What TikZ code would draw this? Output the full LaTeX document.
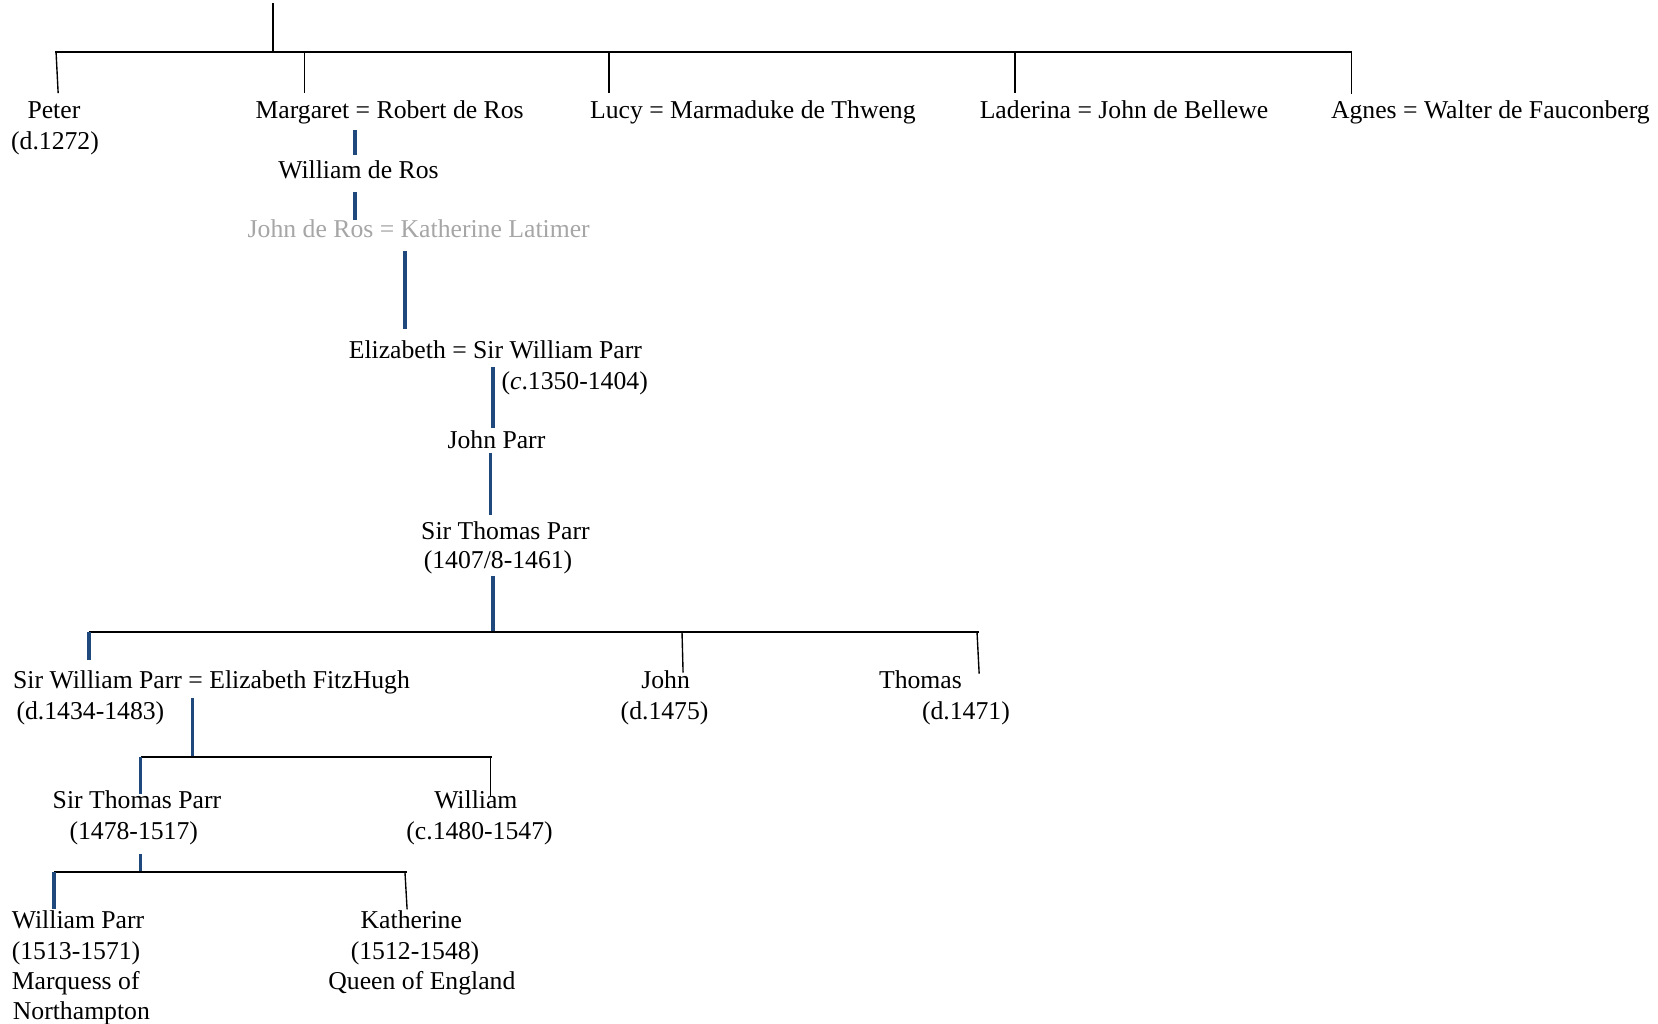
\documentclass[tikz,border=0pt]{standalone}
\usepackage{fontspec}
\setmainfont{Liberation Serif}
\definecolor{lineblue}{RGB}{31,73,125}
\definecolor{greytext}{RGB}{166,166,166}
\begin{document}
\begin{tikzpicture}[x=1pt,y=-1pt,
  lbl/.style={inner sep=0pt, anchor=base, yshift=-2pt, font=\fontsize{24.3}{29}\selectfont},
  lblw/.style={lbl, anchor=base west},
  bar/.style={line width=1.8pt, black},
  drop/.style={line width=1.3pt, black},
  blu/.style={line width=3.4pt, lineblue}]
\path[use as bounding box, fill=white] (0,0) rectangle (1568,968);

% ---------- generation 1 ----------
\coordinate (top) at (258,3);
\coordinate (b1) at (258,49);
\coordinate (b1L) at (52,49);
\coordinate (b1R) at (1279,49);
\draw[bar] (top) -- (b1);
\draw[bar] (b1L) -- (b1R);
\coordinate (dPa) at (53,49);   \coordinate (dPb) at (55,88);
\coordinate (dMa) at (288,49);  \coordinate (dMb) at (288,88);
\coordinate (dLa) at (576,49);  \coordinate (dLb) at (576,88);
\coordinate (dDa) at (960,49);  \coordinate (dDb) at (960,88);
\coordinate (dAa) at (1278,49); \coordinate (dAb) at (1278,89);
\draw[drop] (dPa) -- (dPb);
\draw[drop] (dMa) -- (dMb);
\draw[drop] (dLa) -- (dLb);
\draw[drop] (dDa) -- (dDb);
\draw[drop] (dAa) -- (dAb);

\node[lbl] (peter) at (51,110) {Peter};
\node[lbl] (peterd) at (52,139) {(d.1272)};
\node[lbl] (margaret) at (368.5,110) {Margaret = Robert de Ros};
\node[lbl] (lucy) at (712,110) {Lucy = Marmaduke de Thweng};
\node[lbl] (laderina) at (1063,110) {Laderina = John de Bellewe};
\node[lbl] (agnes) at (1409.5,110) {Agnes = Walter de Fauconberg};

% ---------- Ros line ----------
\coordinate (u1a) at (336,123); \coordinate (u1b) at (336,147);
\draw[blu] (u1a) -- (u1b);
\node[lbl] (wros) at (339,167) {William de Ros};
\coordinate (u2a) at (336,182); \coordinate (u2b) at (336,208);
\draw[blu] (u2a) -- (u2b);
\node[lbl, text=greytext] (jros) at (396,223) {John de Ros = Katherine Latimer};
\coordinate (u3a) at (383,237); \coordinate (u3b) at (383,311);
\draw[blu] (u3a) -- (u3b);

% ---------- Parr line ----------
\node[lbl] (eliz) at (468.5,337) {Elizabeth = Sir William Parr};
\node[lbl] (elizd) at (543.5,366) {(\textit{c}.1350-1404)};
\coordinate (u4a) at (466,347); \coordinate (u4b) at (466,405);
\draw[blu] (u4a) -- (u4b);
\node[lbl] (jparr) at (469.5,422) {John Parr};
\coordinate (u5a) at (464,428); \coordinate (u5b) at (464,487);
\draw[blu] (u5a) -- (u5b);
\node[lbl] (tparr) at (478,508) {Sir Thomas Parr};
\node[lbl] (tparrd) at (471,536) {(1407/8-1461)};
\coordinate (u6a) at (466,545); \coordinate (u6b) at (466,598);
\draw[blu] (u6a) -- (u6b);

% ---------- generation of Sir Thomas Parr ----------
\coordinate (b2L) at (84,598); \coordinate (b2R) at (926,598);
\draw[bar] (b2L) -- (b2R);
\coordinate (u7b) at (84,624);
\draw[blu] (b2L) -- (u7b);
\coordinate (dJa) at (645,598); \coordinate (dJb) at (646,636);
\coordinate (dTa) at (924,598); \coordinate (dTb) at (926,637);
\draw[drop] (dJa) -- (dJb);
\draw[drop] (dTa) -- (dTb);

\node[lbl] (wparr) at (200,649) {Sir William Parr = Elizabeth FitzHugh};
\node[lbl] (wparrd) at (85.5,678) {(d.1434-1483)};
\node[lbl] (john) at (629.5,649) {John};
\node[lbl] (johnd) at (628.5,678) {(d.1475)};
\node[lbl] (thomas) at (870.5,649) {Thomas};
\node[lbl] (thomasd) at (913.5,678) {(d.1471)};

% ---------- generation of Sir William Parr ----------
\coordinate (u8a) at (182,660); \coordinate (u8b) at (182,716);
\draw[blu] (u8a) -- (u8b);
\coordinate (b3L) at (133,716); \coordinate (b3R) at (465,716);
\draw[bar] (b3L) -- (b3R);
\coordinate (u9b) at (133,751);
\draw[blu] (b3L) -- (u9b);
\coordinate (dWa) at (464,716); \coordinate (dWb) at (464,753);
\draw[drop] (dWa) -- (dWb);

\node[lbl] (tparr2) at (129.5,763) {Sir Thomas Parr};
\node[lbl] (tparr2d) at (126.5,792) {(1478-1517)};
\node[lbl] (will) at (450,763) {William};
\node[lbl] (willd) at (453.5,792) {(c.1480-1547)};

% ---------- generation of Sir Thomas Parr (1478-1517) ----------
\coordinate (u10a) at (133,808); \coordinate (u10b) at (133,825);
\draw[blu] (u10a) -- (u10b);
\coordinate (b4L) at (51,825); \coordinate (b4R) at (385,825);
\draw[bar] (b4L) -- (b4R);
\coordinate (u11b) at (51,860);
\draw[blu] (b4L) -- (u11b);
\coordinate (dKa) at (383,825); \coordinate (dKb) at (385,860);
\draw[drop] (dKa) -- (dKb);

\node[lblw] (wp1) at (11,876) {William Parr};
\node[lblw] (wp2) at (11,905) {(1513-1571)};
\node[lblw] (wp3) at (11,934) {Marquess of};
\node[lblw] (wp4) at (12,962) {Northampton};
\node[lbl] (kat1) at (389,876) {Katherine};
\node[lbl] (kat2) at (392.5,905) {(1512-1548)};
\node[lbl] (kat3) at (399,934) {Queen of England};
\end{tikzpicture}
\end{document}
